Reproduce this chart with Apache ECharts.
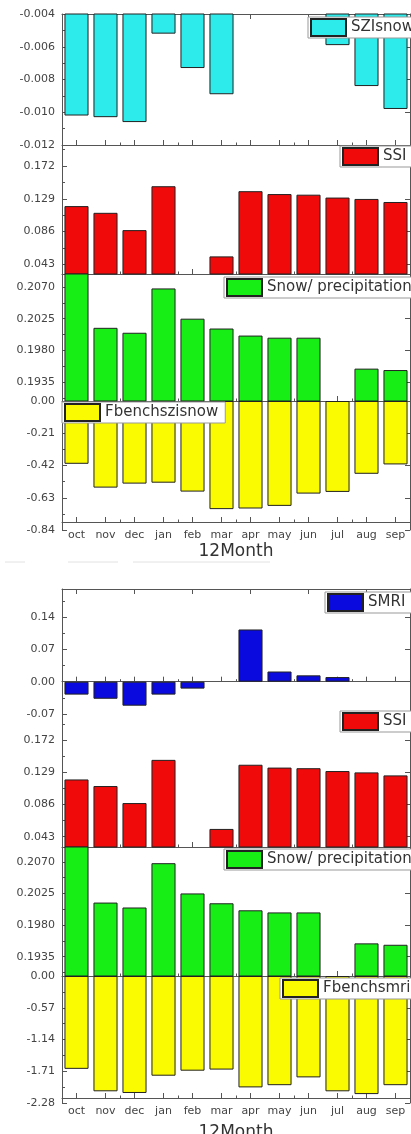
<!DOCTYPE html>
<html>
<head>
<meta charset="utf-8">
<script src="https://cdn.jsdelivr.net/npm/echarts@6/dist/echarts.min.js"></script>
<style>
html,body{margin:0;padding:0;background:#fff;overflow:hidden;}
#chart{width:411px;height:1134px;}
</style>
</head>
<body>
<div id="chart"></div>
<script>
// ---------- data ----------
const months = ['oct','nov','dec','jan','feb','mar','apr','may','jun','jul','aug','sep'];

const szisnow       = [-0.0102, -0.0103, -0.0106, -0.0052, -0.0073, -0.0089, null, null, null, -0.0059, -0.0084, -0.0098];
const ssi           = [0.1194, 0.1106, 0.0879, 0.1455, null, 0.0534, 0.1390, 0.1352, 0.1344, 0.1306, 0.1288, 0.1248];
const snowPrecip    = [0.2095, 0.2012, 0.2005, 0.2068, 0.2025, 0.2011, 0.2001, 0.1998, 0.1998, null, 0.1954, 0.1952];
const fbenchszisnow = [-0.409, -0.564, -0.538, -0.532, -0.590, -0.704, -0.700, -0.683, -0.603, -0.592, -0.474, -0.413];
const smri          = [-0.028, -0.037, -0.052, -0.028, -0.015, null, 0.113, 0.022, 0.0137, 0.010, null, null];
const fbenchsmri    = [-1.667, -2.07, -2.10, -1.79, -1.70, -1.68, -2.00, -1.96, -1.82, -2.07, -2.12, -1.96];

// tick labels
const ticksSZI   = [-0.012, -0.010, -0.008, -0.006, -0.004];
const ticksSSI   = [0.043, 0.086, 0.129, 0.172];
const ticksSnow  = [0.1935, 0.1980, 0.2025, 0.2070];
const ticksF1    = [-0.84, -0.63, -0.42, -0.21, 0];
const ticksSMRI  = [-0.07, 0, 0.07, 0.14];
const ticksF2    = [-2.28, -1.71, -1.14, -0.57, 0];
const xTitle = '12Month';

// ---------- layout / style ----------
const FONT = 'DejaVu Sans';
const AX = '#555';
const panels = [
  {name:'SZIsnow', data:szisnow, color:'#2EEBEB', min:-0.012, max:-0.004, ticks:ticksSZI, dec:3, top:14, height:131, lg:[308,17], topAxis:true},
  {name:'SSI', data:ssi, color:'#F00A0A', min:0.0303, max:0.1996, ticks:ticksSSI, dec:3, top:145, height:129, lg:[340,146]},
  {name:'Snow/ precipitation', data:snowPrecip, color:'#16EE16', min:0.1908, max:0.20885, ticks:ticksSnow, dec:4, top:274, height:127, lg:[224,277]},
  {name:'Fbenchszisnow', data:fbenchszisnow, color:'#FAFA00', min:-0.84, max:0, ticks:ticksF1, dec:2, top:401, height:129, lg:[62,402], labels:true, xOffset:-8, labelMargin:8, nameGap:21},
  {name:'SMRI', data:smri, color:'#0A0ADE', min:-0.0808, max:0.2006, ticks:ticksSMRI, dec:2, top:589, height:130, lg:[325,592], topAxis:true, onZero:true},
  {name:'SSI', data:ssi, color:'#F00A0A', min:0.0293, max:0.200, ticks:ticksSSI, dec:3, top:719, height:128, lg:[340,711]},
  {name:'Snow/ precipitation', data:snowPrecip, color:'#16EE16', min:0.19076, max:0.2091, ticks:ticksSnow, dec:4, top:847, height:129, lg:[224,849]},
  {name:'Fbenchsmri', data:fbenchsmri, color:'#FAFA00', min:-2.28, max:0, ticks:ticksF2, dec:2, top:976, height:127, lg:[280,978], labels:true, xOffset:-5, labelMargin:8, nameGap:26}
];

function minorTicks(t, min, max){
  const out = [];
  const step = t[1]-t[0];
  const first = t[0]-step/2;
  for (let k=0;;k++){
    const v = first + k*step;
    if (v > max + 1e-12) break;
    if (v >= min - 1e-12) out.push(v);
  }
  return out;
}

const grid=[], xAxis=[], yAxis=[], series=[], legend=[];
panels.forEach((p,i)=>{
  grid.push({left:62, width:348, top:p.top, height:p.height, containLabel:false, outerBoundsMode:'none'});
  const xMain = xAxis.length;
  xAxis.push({
    type:'category', gridIndex:i, data:months, position:'bottom', offset:p.xOffset||0,
    axisLine:{show:true, onZero:!!p.onZero, lineStyle:{color:AX, width:1}},
    axisTick:{show:true, inside:true, alignWithLabel:true, length:5, lineStyle:{color:AX}},
    axisLabel:{show:!!p.labels, color:'#444', fontFamily:FONT, fontSize:11, margin:p.labelMargin||6, interval:0},
    name: p.labels ? xTitle : '', nameLocation:'middle', nameGap:p.nameGap||18,
    nameTextStyle:{fontFamily:FONT, fontSize:17, color:'#333'},
    splitLine:{show:false}
  });
  xAxis.push({
    type:'category', gridIndex:i, data:months, position:'bottom', offset:p.xOffset||0,
    axisLine:{show:false, onZero:!!p.onZero},
    axisTick:{show:true, inside:true, alignWithLabel:false, length:2.5, lineStyle:{color:AX}},
    axisLabel:{show:false}, splitLine:{show:false}
  });
  if (p.topAxis){
    xAxis.push({
      type:'category', gridIndex:i, data:months, position:'top',
      axisLine:{show:true, onZero:false, lineStyle:{color:AX}},
      axisTick:{show:true, inside:true, alignWithLabel:true, length:5, lineStyle:{color:AX}},
      axisLabel:{show:false}, splitLine:{show:false}
    });
  }
  const yMain = yAxis.length;
  yAxis.push({
    type:'value', gridIndex:i, position:'left', min:p.min, max:p.max,
    axisLine:{show:true, onZero:false, lineStyle:{color:AX}},
    axisTick:{show:true, inside:true, length:5, customValues:p.ticks, lineStyle:{color:AX}},
    axisLabel:{show:true, customValues:p.ticks, color:'#444', fontFamily:FONT, fontSize:11, margin:7,
      formatter:(v)=>Number(v).toFixed(p.dec)},
    splitLine:{show:false}
  });
  yAxis.push({
    type:'value', gridIndex:i, position:'left', min:p.min, max:p.max,
    axisLine:{show:false, onZero:false},
    axisTick:{show:true, inside:true, length:3, customValues:minorTicks(p.ticks,p.min,p.max), lineStyle:{color:AX}},
    axisLabel:{show:false}, splitLine:{show:false}
  });
  yAxis.push({
    type:'value', gridIndex:i, position:'right', min:p.min, max:p.max,
    axisLine:{show:true, onZero:false, lineStyle:{color:AX}},
    axisTick:{show:true, inside:true, length:5, customValues:p.ticks, lineStyle:{color:AX}},
    axisLabel:{show:false}, splitLine:{show:false}
  });
  series.push({
    type:'bar', name:p.name, xAxisIndex:xMain, yAxisIndex:yMain, data:p.data,
    barCategoryGap:'17%', clip:true,
    itemStyle:{color:p.color, borderColor:'#222', borderWidth:1},
    emphasis:{disabled:true}
  });
  legend.push({
    data:[p.name], left:p.lg[0], top:p.lg[1], orient:'horizontal',
    icon:'rect', itemWidth:35, itemHeight:17, itemGap:4,
    backgroundColor:'#fff', borderColor:'#999', borderWidth:1, padding:[1,7,1,2],
    selectedMode:false,
    textStyle:{fontFamily:FONT, fontSize:15, color:'#333'}
  });
});

const chart = echarts.init(document.getElementById('chart'), null, {renderer:'canvas'});
chart.setOption({
  animation:false,
  backgroundColor:'#fff',
  grid, xAxis, yAxis, series, legend,
  tooltip:{show:false},
  graphic:[
    {type:'line', shape:{x1:5, y1:562, x2:25, y2:562}, style:{stroke:'#e2e2e2', lineWidth:1}, silent:true},
    {type:'line', shape:{x1:68, y1:562, x2:118, y2:562}, style:{stroke:'#e2e2e2', lineWidth:1}, silent:true},
    {type:'line', shape:{x1:133, y1:562, x2:270, y2:562}, style:{stroke:'#e2e2e2', lineWidth:1}, silent:true}
  ]
});
</script>
</body>
</html>
